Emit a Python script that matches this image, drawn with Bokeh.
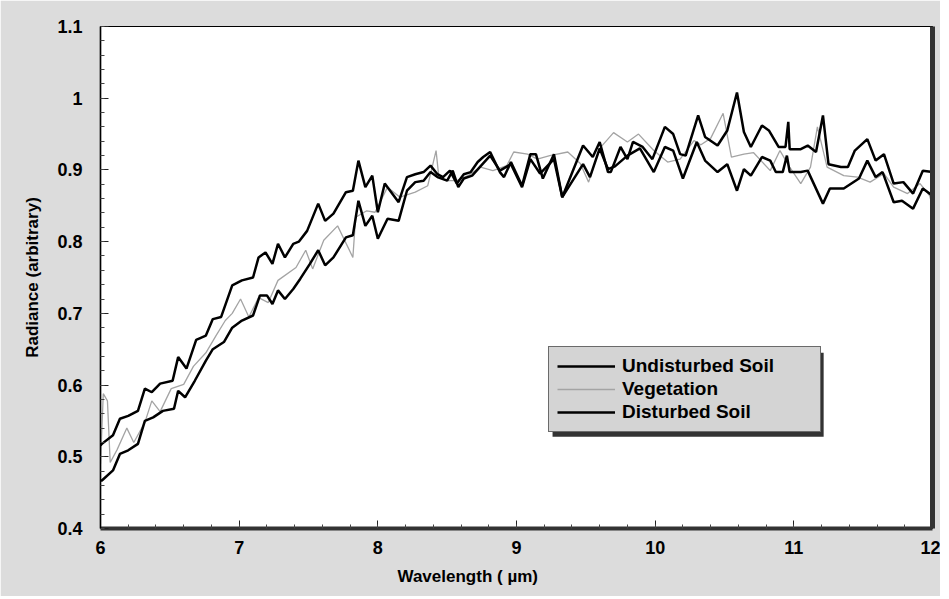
from bokeh.plotting import figure
from bokeh.models import (Range1d, LinearAxis, FixedTicker, CustomJSTickFormatter,
                          Legend, LegendItem, Title, BoxAnnotation)
from bokeh.embed import file_html
from bokeh.resources import INLINE

# ---- data ----
undist_x = [6.00, 6.01, 6.09, 6.14, 6.20, 6.27, 6.32, 6.37, 6.43, 6.52, 6.56, 6.62, 6.69, 6.76, 6.81,
            6.87, 6.95, 7.02, 7.10, 7.14, 7.19, 7.24, 7.28, 7.33, 7.39, 7.43, 7.49, 7.57, 7.62, 7.68,
            7.77, 7.82, 7.86, 7.91, 7.96, 8.00, 8.05, 8.15, 8.21, 8.27, 8.33, 8.38, 8.43, 8.47, 8.52,
            8.57, 8.62, 8.67, 8.72, 8.76, 8.81, 8.88, 8.91, 8.96, 9.04, 9.10, 9.14, 9.19, 9.27, 9.33,
            9.48, 9.55, 9.60, 9.66, 9.68, 9.75, 9.80, 9.84, 9.91, 9.98, 10.07, 10.13, 10.18, 10.22,
            10.31, 10.36, 10.45, 10.52, 10.59, 10.64, 10.69, 10.77, 10.82, 10.89, 10.94, 10.96, 10.97,
            11.05, 11.10, 11.16, 11.21, 11.25, 11.34, 11.39, 11.44, 11.53, 11.59, 11.65, 11.72, 11.79,
            11.86, 11.93, 12.00]
undist_y = [0.516, 0.518, 0.530, 0.553, 0.557, 0.564, 0.595, 0.590, 0.602, 0.606, 0.639, 0.623, 0.663,
            0.669, 0.692, 0.695, 0.739, 0.746, 0.750, 0.778, 0.785, 0.769, 0.797, 0.778, 0.797, 0.800,
            0.815, 0.853, 0.829, 0.839, 0.869, 0.871, 0.913, 0.876, 0.892, 0.841, 0.881, 0.855, 0.890,
            0.894, 0.897, 0.906, 0.894, 0.890, 0.899, 0.881, 0.894, 0.897, 0.911, 0.918, 0.925, 0.897,
            0.890, 0.911, 0.878, 0.922, 0.922, 0.888, 0.922, 0.862, 0.934, 0.918, 0.939, 0.897, 0.897,
            0.932, 0.915, 0.939, 0.932, 0.915, 0.960, 0.950, 0.922, 0.920, 0.976, 0.946, 0.934, 0.955,
            1.008, 0.953, 0.932, 0.962, 0.955, 0.932, 0.932, 0.967, 0.929, 0.929, 0.934, 0.925, 0.976,
            0.908, 0.904, 0.904, 0.927, 0.943, 0.913, 0.922, 0.881, 0.883, 0.867, 0.899, 0.897]

veg_x = [6.00, 6.02, 6.05, 6.07, 6.12, 6.19, 6.24, 6.32, 6.37, 6.43, 6.51, 6.60, 6.67, 6.76, 6.83,
         6.90, 6.95, 7.01, 7.07, 7.14, 7.21, 7.28, 7.41, 7.48, 7.53, 7.61, 7.71, 7.82, 7.84, 7.92,
         7.98, 8.07, 8.16, 8.27, 8.36, 8.42, 8.44, 8.50, 8.57, 8.65, 8.74, 8.83, 8.93, 8.98, 9.08,
         9.15, 9.24, 9.37, 9.46, 9.52, 9.60, 9.70, 9.80, 9.88, 9.99, 10.09, 10.18, 10.28, 10.33,
         10.40, 10.49, 10.55, 10.64, 10.71, 10.83, 10.90, 10.97, 11.05, 11.12, 11.17, 11.24, 11.36,
         11.46, 11.55, 11.65, 11.72, 11.82, 11.91, 11.98, 12.00]
veg_y = [0.490, 0.588, 0.578, 0.492, 0.510, 0.540, 0.520, 0.548, 0.578, 0.563, 0.595, 0.601, 0.626,
         0.645, 0.668, 0.690, 0.700, 0.720, 0.695, 0.722, 0.715, 0.746, 0.764, 0.788, 0.762, 0.802,
         0.822, 0.778, 0.834, 0.843, 0.841, 0.876, 0.862, 0.869, 0.878, 0.927, 0.890, 0.885, 0.885,
         0.892, 0.904, 0.899, 0.906, 0.925, 0.922, 0.915, 0.920, 0.925, 0.909, 0.883, 0.930, 0.952,
         0.939, 0.950, 0.927, 0.911, 0.915, 0.941, 0.935, 0.944, 0.979, 0.918, 0.922, 0.924, 0.899,
         0.927, 0.904, 0.881, 0.904, 0.960, 0.904, 0.892, 0.890, 0.883, 0.895, 0.876, 0.867, 0.881,
         0.864, 0.848]

dist_x = [6.00, 6.01, 6.09, 6.14, 6.20, 6.27, 6.32, 6.38, 6.45, 6.53, 6.56, 6.61, 6.68, 6.76, 6.81,
          6.89, 6.95, 7.02, 7.10, 7.15, 7.20, 7.24, 7.28, 7.33, 7.39, 7.44, 7.51, 7.57, 7.62, 7.68,
          7.77, 7.82, 7.86, 7.91, 7.96, 8.00, 8.07, 8.15, 8.21, 8.27, 8.33, 8.38, 8.43, 8.50, 8.54,
          8.58, 8.62, 8.68, 8.74, 8.81, 8.88, 8.96, 9.04, 9.10, 9.17, 9.27, 9.33, 9.48, 9.53, 9.60,
          9.66, 9.71, 9.80, 9.89, 9.99, 10.07, 10.13, 10.20, 10.30, 10.36, 10.45, 10.52, 10.59,
          10.64, 10.69, 10.77, 10.83, 10.87, 10.92, 10.95, 10.97, 11.05, 11.10, 11.21, 11.26, 11.36,
          11.47, 11.53, 11.59, 11.64, 11.72, 11.78, 11.86, 11.93, 12.00]
dist_y = [0.467, 0.467, 0.481, 0.504, 0.509, 0.518, 0.550, 0.555, 0.564, 0.567, 0.592, 0.583, 0.606,
          0.634, 0.650, 0.660, 0.680, 0.690, 0.697, 0.725, 0.725, 0.713, 0.732, 0.720, 0.734, 0.748,
          0.769, 0.788, 0.767, 0.778, 0.806, 0.809, 0.857, 0.822, 0.836, 0.804, 0.832, 0.829, 0.871,
          0.883, 0.885, 0.897, 0.890, 0.885, 0.899, 0.876, 0.888, 0.892, 0.905, 0.920, 0.899, 0.908,
          0.876, 0.915, 0.895, 0.915, 0.862, 0.908, 0.890, 0.930, 0.901, 0.905, 0.920, 0.930, 0.897,
          0.932, 0.927, 0.888, 0.939, 0.913, 0.897, 0.908, 0.871, 0.901, 0.892, 0.918, 0.913, 0.897,
          0.897, 0.920, 0.897, 0.897, 0.899, 0.853, 0.874, 0.874, 0.888, 0.913, 0.890, 0.897, 0.855,
          0.857, 0.846, 0.874, 0.864]

series_names = ["Undisturbed Soil", "Vegetation", "Disturbed Soil"]
x_ticks = [6, 7, 8, 9, 10, 11, 12]
y_ticks = [0.4, 0.5, 0.6, 0.7, 0.8, 0.9, 1.0, 1.1]
x_title = "Wavelength (   µm)"
y_title = "Radiance (arbitrary)"

FONT = "Liberation Sans"
BG = "#dcdcdc"

p = figure(width=940, height=596, output_backend="svg", toolbar_location=None,
           x_range=Range1d(6, 12), y_range=Range1d(0.4, 1.1),
           min_border_left=100, min_border_right=8, min_border_top=26, min_border_bottom=68)
p.xgrid.visible = False
p.ygrid.visible = False
p.background_fill_color = "white"
p.border_fill_color = BG
p.outline_line_color = "black"
p.outline_line_width = 1.2

x_minor = [round(6 + 0.2 * i, 2) for i in range(31)]
y_minor = [round(0.4 + 0.02 * i, 2) for i in range(36)]
p.xaxis.ticker = FixedTicker(ticks=x_ticks, minor_ticks=x_minor)
p.yaxis.ticker = FixedTicker(ticks=y_ticks, minor_ticks=y_minor)
p.yaxis.formatter = CustomJSTickFormatter(code="return String(Math.round(tick*10)/10);")
p.xaxis.formatter = CustomJSTickFormatter(code="return String(Math.round(tick));")

for ax in (p.xaxis, p.yaxis):
    ax.major_tick_in = 8
    ax.major_tick_out = 0
    ax.minor_tick_in = 4
    ax.minor_tick_out = 0
    ax.major_tick_line_color = "#222222"
    ax.minor_tick_line_color = "#444444"
    ax.major_label_text_font = FONT
    ax.major_label_text_font_style = "bold"
    ax.major_label_text_font_size = "18px"
    ax.major_label_text_color = "black"

p.yaxis.axis_line_color = "black"
p.yaxis.axis_line_width = 1.5
p.yaxis.major_label_standoff = 18
p.yaxis.axis_label = y_title
p.yaxis.axis_label_text_font = FONT
p.yaxis.axis_label_text_font_style = "bold"
p.yaxis.axis_label_text_font_size = "17px"
p.yaxis.axis_label_text_color = "black"
p.yaxis.axis_label_standoff = 12

p.xaxis.axis_line_color = "#333333"
p.xaxis.axis_line_width = 4
p.xaxis.major_label_standoff = 12

right_ax = LinearAxis(ticker=FixedTicker(ticks=[]), major_label_text_font_size="0px",
                      axis_line_color="#333333", axis_line_width=5,
                      major_tick_line_color=None, minor_tick_line_color=None)
p.add_layout(right_ax, "right")

r_veg = p.line(veg_x, veg_y, line_color="#a4a4a4", line_width=1.3)
r_und = p.line(undist_x, undist_y, line_color="black", line_width=2.5)
r_dis = p.line(dist_x, dist_y, line_color="black", line_width=2.5)

# legend shadow
p.add_layout(BoxAnnotation(left=9.26, right=11.215, top=0.645, bottom=0.528,
                           fill_color="#333333", fill_alpha=1, line_alpha=0))

legend = Legend(items=[LegendItem(label=series_names[0], renderers=[r_und]),
                       LegendItem(label=series_names[1], renderers=[r_veg]),
                       LegendItem(label=series_names[2], renderers=[r_dis])],
                location=(448, 96), margin=0, padding=8, spacing=1,
                glyph_width=58, glyph_height=20, label_height=20, label_width=190,
                label_standoff=7,
                label_text_font=FONT, label_text_font_style="bold",
                label_text_font_size="19px", label_text_color="black",
                border_line_color="black", border_line_width=1,
                background_fill_color="#d4d4d4", background_fill_alpha=1)
p.add_layout(legend)

p.add_layout(Title(text=x_title, align="left", offset=297, standoff=16,
                   text_font=FONT, text_font_style="bold", text_font_size="17px",
                   text_color="black"), "below")

open("out.html", "w").write(file_html(p, INLINE))
